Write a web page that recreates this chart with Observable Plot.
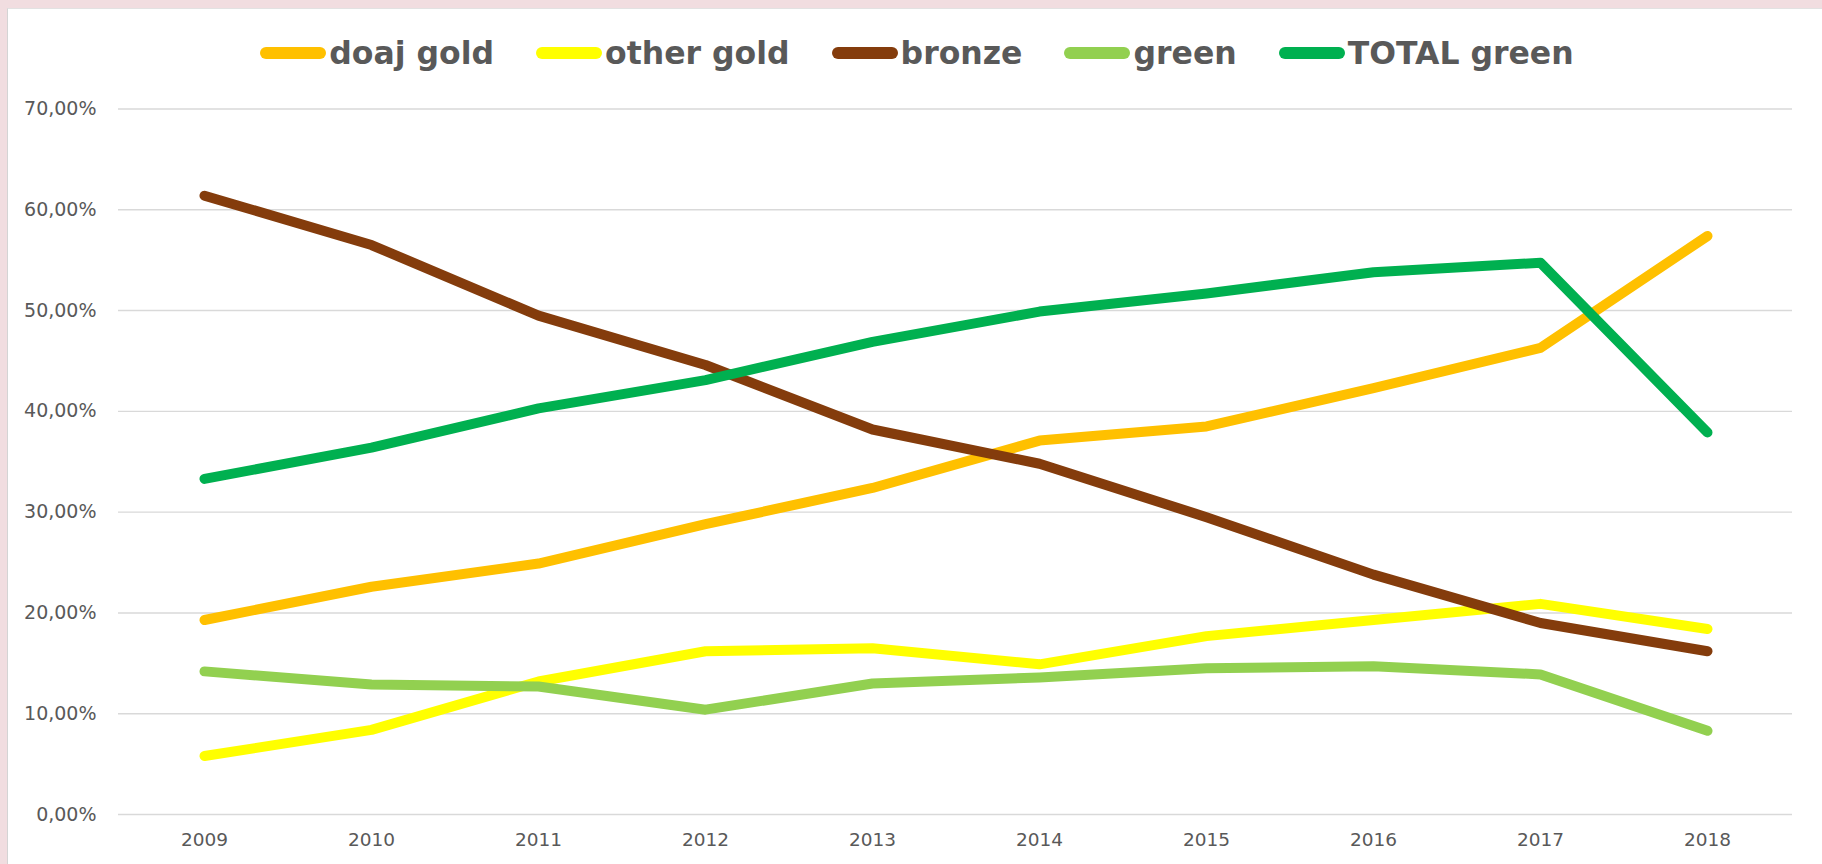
<!DOCTYPE html>
<html>
<head>
<meta charset="utf-8">
<script src="https://cdn.jsdelivr.net/npm/d3@7"></script>
<script src="https://cdn.jsdelivr.net/npm/@observablehq/plot@0.6"></script>
<style>
  html, body { margin: 0; padding: 0; width: 1822px; height: 864px; overflow: hidden; background: #f1dde0; }
  #panel { position: absolute; left: 7px; top: 8px; width: 1815px; height: 856px; background: #ffffff; border-left: 1px solid #d4d4d4; border-top: 1px solid #e2e2e2; box-sizing: border-box; }
  #legend { height: 87px; display: flex; align-items: center; justify-content: center; gap: 42px; padding-left: 4px; font-family: "DejaVu Sans", sans-serif; font-weight: bold; font-size: 31.5px; color: #595959; }
  .item { display: flex; align-items: center; gap: 3px; }
  .sw { width: 66px; height: 12px; border-radius: 6px; }
  #chart { position: absolute; left: -1px; top: 87px; }
</style>
</head>
<body>
<div id="panel">
  <div id="legend"></div>
  <div id="chart"></div>
</div>
<script>
const years = ["2009","2010","2011","2012","2013","2014","2015","2016","2017","2018"];
const seriesNames = ["doaj gold", "other gold", "bronze", "green", "TOTAL green"];
const seriesColors = ["#FFC000", "#FFFF00", "#843C0C", "#92D050", "#00B050"];
const doajGold   = [19.3, 22.6, 24.9, 28.8, 32.4, 37.1, 38.5, 42.3, 46.3, 57.4];
const otherGold  = [5.8, 8.4, 13.2, 16.2, 16.5, 14.9, 17.7, 19.3, 20.9, 18.4];
const bronze     = [61.4, 56.5, 49.5, 44.6, 38.2, 34.8, 29.5, 23.8, 19.0, 16.2];
const green      = [14.2, 12.9, 12.7, 10.4, 13.0, 13.6, 14.5, 14.7, 13.9, 8.3];
const totalGreen = [33.3, 36.4, 40.3, 43.1, 46.9, 49.9, 51.7, 53.8, 54.75, 37.9];
const yTicks = [0, 10, 20, 30, 40, 50, 60, 70];

const seriesValues = [doajGold, otherGold, bronze, green, totalGreen];
const data = [];
seriesNames.forEach((name, i) => {
  years.forEach((yr, j) => data.push({series: name, year: yr, value: seriesValues[i][j]}));
});

// legend (HTML, above the SVG)
const legend = document.getElementById("legend");
seriesNames.forEach((name, i) => {
  const it = document.createElement("div");
  it.className = "item";
  const sw = document.createElement("div");
  sw.className = "sw";
  sw.style.background = seriesColors[i];
  const tx = document.createElement("span");
  tx.textContent = name;
  it.appendChild(sw);
  it.appendChild(tx);
  legend.appendChild(it);
});

const fmt = d => d.toFixed(2).replace(".", ",") + "%";

const chart = Plot.plot({
  width: 1815,
  height: 769,
  marginLeft: 111,
  marginRight: 30,
  marginTop: 12.5,
  marginBottom: 51,
  style: { fontFamily: "DejaVu Sans, sans-serif", fontSize: "18px", color: "#595959", background: "transparent" },
  x: { type: "point", domain: years, padding: 0.5, label: null },
  y: { domain: [0, 70], label: null },
  color: { domain: seriesNames, range: seriesColors },
  marks: [
    Plot.ruleY(yTicks, { stroke: "#d9d9d9", strokeWidth: 1.4 }),
    Plot.axisY({ ticks: yTicks, tickFormat: fmt, tickSize: 0, tickPadding: 22, fill: "#595959", fontSize: 19, label: null }),
    Plot.axisX({ tickSize: 0, tickPadding: 18, fill: "#595959", fontSize: 18.5, label: null }),
    Plot.line(data, { x: "year", y: "value", z: "series", stroke: "series", strokeWidth: 10, strokeLinecap: "round", strokeLinejoin: "round" })
  ]
});
document.getElementById("chart").appendChild(chart);
</script>
</body>
</html>
